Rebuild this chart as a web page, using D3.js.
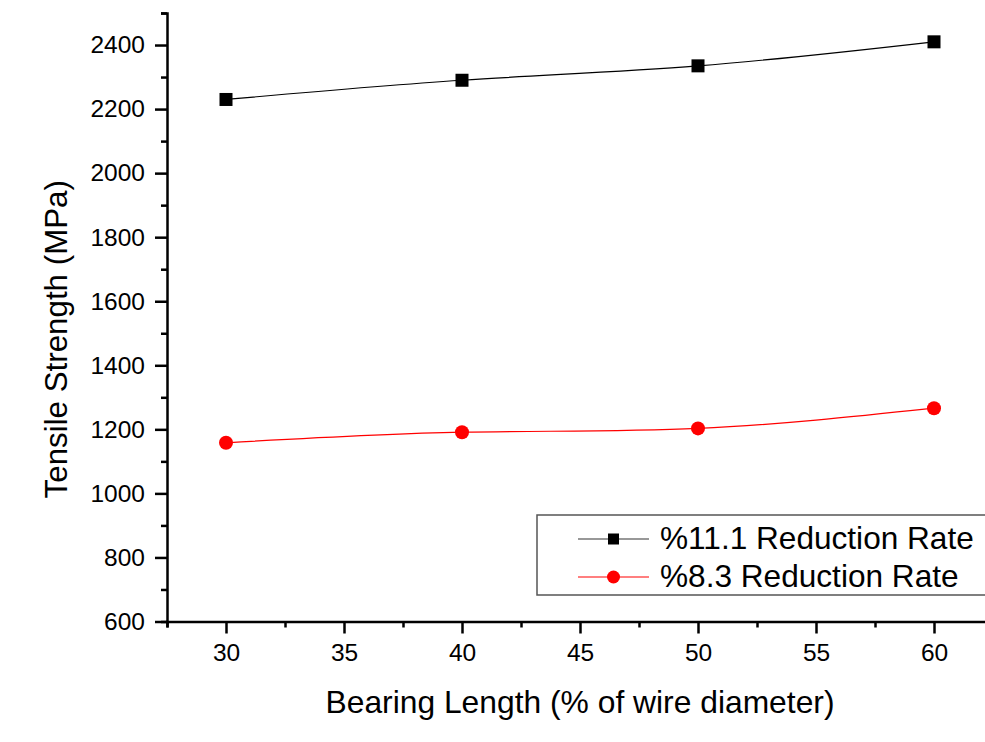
<!DOCTYPE html>
<html>
<head>
<meta charset="utf-8">
<script src="https://cdnjs.cloudflare.com/ajax/libs/d3/7.8.5/d3.min.js"></script>
<style>
  body { margin: 0; background: #fff; }
  svg { display: block; font-family: Arial, "Liberation Sans", sans-serif; }
</style>
</head>
<body>
<svg id="chart" width="985" height="742"></svg>
<script>
// values
const bearing = [30, 40, 50, 60];
const rate111 = [2230, 2290, 2335, 2410];
const rate83 = [1158, 1191, 1203, 1266];
const seriesNames = ["%11.1 Reduction Rate", "%8.3 Reduction Rate"];
const xTicks = [30, 35, 40, 45, 50, 55, 60];
const yTicks = [600, 800, 1000, 1200, 1400, 1600, 1800, 2000, 2200, 2400];

const svg = d3.select("#chart");

// plot frame (right side runs off the picture, as in the original)
const x = d3.scaleLinear().domain([27.5, 62.5]).range([167, 993]);
const y = d3.scaleLinear().domain([600, 2500]).range([621.5, 13]);

// x axis
const xAxis = svg.append("g").attr("transform", `translate(0,${y(600)})`);
xAxis.call(d3.axisBottom(x).tickValues(d3.range(27.5, 62.6, 2.5))
    .tickSize(6).tickFormat(""));
xAxis.call(g => g.selectAll(".tick").filter(d => d % 5 === 0).select("line").attr("y2", 12));
xAxis.append("g").call(d3.axisBottom(x).tickValues(xTicks).tickSize(0).tickPadding(22)
    .tickFormat(d3.format("d")))
  .call(g => g.select(".domain").remove());

// y axis
const yAxis = svg.append("g").attr("transform", `translate(${x(27.5)},0)`);
yAxis.call(d3.axisLeft(y).tickValues(d3.range(600, 2501, 100))
    .tickSize(6).tickFormat(""));
yAxis.call(g => g.selectAll(".tick").filter(d => d % 200 === 0 && d <= 2400).select("line").attr("x2", -12));
yAxis.append("g").call(d3.axisLeft(y).tickValues(yTicks).tickSize(0).tickPadding(22)
    .tickFormat(d3.format("d")))
  .call(g => g.select(".domain").remove());

svg.selectAll(".domain").attr("stroke", "#000").attr("stroke-width", 2.5);
svg.selectAll(".tick line").attr("stroke", "#000").attr("stroke-width", 2.5);
svg.selectAll(".tick text").attr("fill", "#000").attr("font-size", 24.5)
  .attr("font-family", "Arial, 'Liberation Sans', sans-serif");

// axis titles
svg.append("text")
  .attr("x", 580).attr("y", 713)
  .attr("text-anchor", "middle").attr("font-size", 31.8)
  .text("Bearing Length (% of wire diameter)");

svg.append("text")
  .attr("transform", `translate(67,${(y(600) + y(2500)) / 2 + 22}) rotate(-90)`)
  .attr("text-anchor", "middle").attr("font-size", 31.3)
  .text("Tensile Strength (MPa)");

// series
const line = d3.line().x(d => x(d[0])).y(d => y(d[1])).curve(d3.curveNatural);
const black = bearing.map((b, i) => [b, rate111[i]]);
const red = bearing.map((b, i) => [b, rate83[i]]);

svg.append("path").datum(black).attr("d", line)
  .attr("fill", "none").attr("stroke", "#000").attr("stroke-width", 1.2);
svg.append("path").datum(red).attr("d", line)
  .attr("fill", "none").attr("stroke", "#ff0000").attr("stroke-width", 1.2);

svg.selectAll("rect.pt").data(black).join("rect").attr("class", "pt")
  .attr("x", d => x(d[0]) - 6.5).attr("y", d => y(d[1]) - 6.5)
  .attr("width", 13).attr("height", 13).attr("fill", "#000");
svg.selectAll("circle.pt").data(red).join("circle").attr("class", "pt")
  .attr("cx", d => x(d[0])).attr("cy", d => y(d[1])).attr("r", 7)
  .attr("fill", "#ff0000");

// legend
const lg = svg.append("g");
lg.append("rect").attr("x", 537).attr("y", 515).attr("width", 460).attr("height", 80)
  .attr("fill", "#fff").attr("stroke", "#555").attr("stroke-width", 1.5);
const rows = [539, 577];
rows.forEach((ry, i) => {
  lg.append("line").attr("x1", 578).attr("x2", 649).attr("y1", ry).attr("y2", ry)
    .attr("stroke", i === 0 ? "#333" : "#ff0000").attr("stroke-width", 1.2);
  if (i === 0) {
    lg.append("rect").attr("x", 608).attr("y", ry - 5.5).attr("width", 11).attr("height", 11).attr("fill", "#000");
  } else {
    lg.append("circle").attr("cx", 613.5).attr("cy", ry).attr("r", 6.5).attr("fill", "#ff0000");
  }
  lg.append("text").attr("x", 660).attr("y", ry + 10).attr("font-size", 31.6)
    .attr("fill", "#000").text(seriesNames[i]);
});
</script>
</body>
</html>
